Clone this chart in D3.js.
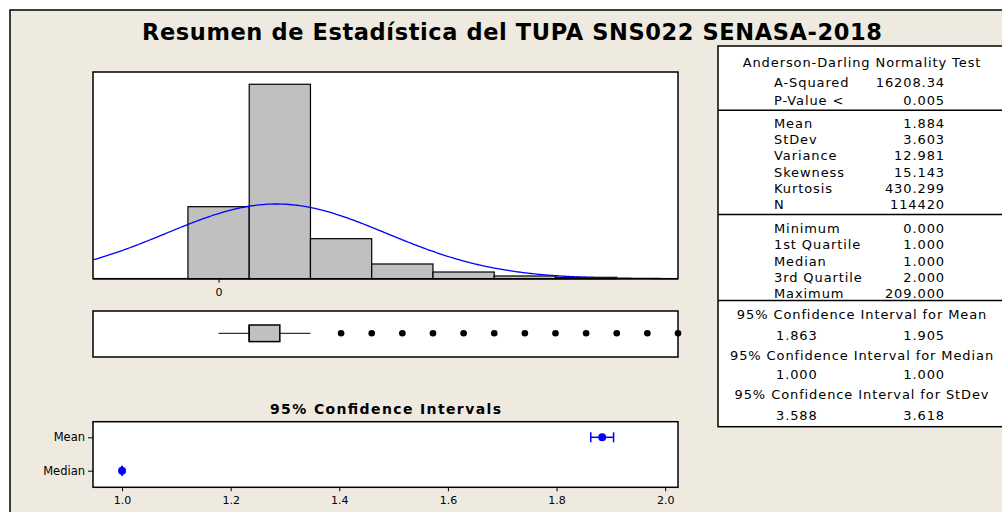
<!DOCTYPE html>
<html>
<head>
<meta charset="utf-8">
<script src="https://cdn.jsdelivr.net/npm/d3@7"></script>
<style>
  html, body { margin: 0; padding: 0; background: #fff; }
  svg { display: block; font-family: "DejaVu Sans", Verdana, sans-serif; }
</style>
</head>
<body>
<svg id="chart" width="1002" height="512"></svg>
<script>
// ---- data ----
const title = "Resumen de Estadística del TUPA SNS022 SENASA-2018";

// histogram: bins of width 2 centred on 0, 2, 4 ...
const binStarts = [-1, 1, 3, 5, 7, 9, 11];
const binWidth = 2;
const binCounts = [24420, 65940, 13570, 4990, 2270, 920, 470];
const histTicks = [0];

const mean = 1.884, stdev = 3.603, nObs = 114420;

// boxplot: low whisker, Q1, median, Q3, high whisker
const boxValues = [0, 1, 1, 2, 3];
const outliers = [4, 5, 6, 7, 8, 9, 10, 11, 12, 13, 14, 15];

// confidence intervals
const ciLabels = ["Mean", "Median"];
const ciPoint = [1.884, 1.000];
const ciLow = [1.863, 1.000];
const ciHigh = [1.905, 1.000];
const ciTicks = [1.0, 1.2, 1.4, 1.6, 1.8, 2.0];

// stats table
const adLabels = ["A-Squared", "P-Value <"];
const adValues = ["16208.34", "0.005"];
const momentLabels = ["Mean", "StDev", "Variance", "Skewness", "Kurtosis", "N"];
const momentValues = ["1.884", "3.603", "12.981", "15.143", "430.299", "114420"];
const quantLabels = ["Minimum", "1st Quartile", "Median", "3rd Quartile", "Maximum"];
const quantValues = ["0.000", "1.000", "1.000", "2.000", "209.000"];
const ciHeaders = ["95% Confidence Interval for Mean", "95% Confidence Interval for Median", "95% Confidence Interval for StDev"];
const ciTableLow = ["1.863", "1.000", "3.588"];
const ciTableHigh = ["1.905", "1.000", "3.618"];

// ---- drawing ----
const svg = d3.select("#chart");
const bg = "#eeeae0";

svg.append("rect")
  .attr("x", 10).attr("y", 10)
  .attr("width", 1020).attr("height", 520)
  .attr("fill", bg).attr("stroke", "#000").attr("stroke-width", 1.5);

svg.append("text")
  .attr("x", 512).attr("y", 40)
  .attr("text-anchor", "middle")
  .attr("textLength", 740).attr("lengthAdjust", "spacing")
  .style("font-size", "22.5px").style("font-weight", "bold")
  .text(title);

const left = 93, right = 678;

// histogram
const hTop = 72, hBottom = 278.7;
const x = d3.scaleLinear().domain([-4.1, 15]).range([left, right]);
const y = d3.scaleLinear().domain([0, 70100]).range([hBottom, hTop]);

svg.append("rect")
  .attr("x", left).attr("y", hTop)
  .attr("width", right - left).attr("height", hBottom - hTop)
  .attr("fill", "#fff").attr("stroke", "#000").attr("stroke-width", 1.5);

svg.append("g").selectAll("rect")
  .data(binStarts)
  .join("rect")
  .attr("x", d => x(d))
  .attr("y", (d, i) => y(binCounts[i]))
  .attr("width", d => x(d + binWidth) - x(d))
  .attr("height", (d, i) => hBottom - y(binCounts[i]))
  .attr("fill", "#c0c0c0")
  .attr("stroke", "#000")
  .attr("stroke-width", 1.2);

const dens = v => nObs * binWidth * Math.exp(-0.5 * ((v - mean) / stdev) ** 2) / (stdev * Math.sqrt(2 * Math.PI));
const curveX = d3.range(-4.1, 15.001, 0.05);
svg.append("path")
  .datum(curveX)
  .attr("fill", "none")
  .attr("stroke", "#0000ff")
  .attr("stroke-width", 1.3)
  .attr("d", d3.line().x(d => x(d)).y(d => y(dens(d))));

svg.append("line")
  .attr("x1", left).attr("x2", right)
  .attr("y1", hBottom).attr("y2", hBottom)
  .attr("stroke", "#000").attr("stroke-width", 1.5);

svg.append("g")
  .attr("transform", `translate(0,${hBottom})`)
  .call(d3.axisBottom(x).tickValues(histTicks).tickSize(4).tickFormat(d3.format("d")))
  .call(g => g.select(".domain").remove())
  .call(g => g.selectAll("text").style("font-size", "11px").style("font-family", "DejaVu Sans").attr("dy", "0.9em"));

// boxplot
const bTop = 311, bBottom = 357, bMid = 333.3;
svg.append("rect")
  .attr("x", left).attr("y", bTop)
  .attr("width", right - left).attr("height", bBottom - bTop)
  .attr("fill", "#fff").attr("stroke", "#000").attr("stroke-width", 1.5);

svg.append("line")
  .attr("x1", x(boxValues[0])).attr("x2", x(boxValues[1]))
  .attr("y1", bMid).attr("y2", bMid).attr("stroke", "#000");
svg.append("line")
  .attr("x1", x(boxValues[3])).attr("x2", x(boxValues[4]))
  .attr("y1", bMid).attr("y2", bMid).attr("stroke", "#000");
svg.append("rect")
  .attr("x", x(boxValues[1])).attr("y", bMid - 8.3)
  .attr("width", x(boxValues[3]) - x(boxValues[1])).attr("height", 16.6)
  .attr("fill", "#c0c0c0").attr("stroke", "#000").attr("stroke-width", 1.5);
svg.append("line")
  .attr("x1", x(boxValues[2])).attr("x2", x(boxValues[2]))
  .attr("y1", bMid - 8.3).attr("y2", bMid + 8.3)
  .attr("stroke", "#000").attr("stroke-width", 1.5);

svg.append("g").selectAll("circle")
  .data(outliers)
  .join("circle")
  .attr("cx", d => x(d)).attr("cy", bMid)
  .attr("r", 3.3).attr("fill", "#000");

// confidence intervals
const cTop = 421.7, cBottom = 487.3;
const cx = d3.scaleLinear().domain([0.9465, 2.0236]).range([left, right]);
const cy = d3.scalePoint().domain(ciLabels).range([437.3, 470.7]);

svg.append("text")
  .attr("x", (left + right) / 2).attr("y", 414)
  .attr("text-anchor", "middle")
  .attr("textLength", 231).attr("lengthAdjust", "spacing")
  .style("font-size", "14px").style("font-weight", "bold")
  .text("95% Confidence Intervals");

svg.append("rect")
  .attr("x", left).attr("y", cTop)
  .attr("width", right - left).attr("height", cBottom - cTop)
  .attr("fill", "#fff").attr("stroke", "#000").attr("stroke-width", 1.5);

svg.append("g")
  .attr("transform", `translate(0,${cBottom})`)
  .call(d3.axisBottom(cx).tickValues(ciTicks).tickSize(4).tickFormat(d3.format(".1f")))
  .call(g => g.select(".domain").remove())
  .call(g => g.selectAll("text").style("font-size", "11px").style("font-family", "DejaVu Sans").attr("dy", "0.85em"));

svg.append("g")
  .attr("transform", `translate(${left},0)`)
  .call(d3.axisLeft(cy).tickSize(5).tickPadding(3))
  .call(g => g.select(".domain").remove())
  .call(g => g.selectAll("text").style("font-size", "11.5px").style("font-family", "DejaVu Sans"));

const ci = svg.append("g").attr("stroke", "#0000ff").attr("stroke-width", 1.5);
ciLabels.forEach((lab, i) => {
  const yy = cy(lab);
  ci.append("line").attr("x1", cx(ciLow[i])).attr("x2", cx(ciHigh[i])).attr("y1", yy).attr("y2", yy);
  ci.append("line").attr("x1", cx(ciLow[i])).attr("x2", cx(ciLow[i])).attr("y1", yy - 5).attr("y2", yy + 5);
  ci.append("line").attr("x1", cx(ciHigh[i])).attr("x2", cx(ciHigh[i])).attr("y1", yy - 5).attr("y2", yy + 5);
  svg.append("circle").attr("cx", cx(ciPoint[i])).attr("cy", yy).attr("r", 4).attr("fill", "#0000ff");
});

// stats table
const tLeft = 718, tTop = 46, tBottom = 426.7;
const tCenter = 862, labX = 774, valX = 945;
svg.append("rect")
  .attr("x", tLeft).attr("y", tTop)
  .attr("width", 320).attr("height", tBottom - tTop)
  .attr("fill", "#fff").attr("stroke", "#000").attr("stroke-width", 1.5);
[110.3, 214.5, 300.6].forEach(yy => {
  svg.append("line").attr("x1", tLeft).attr("x2", 1010)
    .attr("y1", yy).attr("y2", yy).attr("stroke", "#000").attr("stroke-width", 1.5);
});

const tbl = svg.append("g")
  .style("font-size", "13px").style("letter-spacing", "0.9px")
  .attr("fill", "#000");
const shift = 4.6;
tbl.append("text").attr("x", tCenter).attr("y", 62.7 + shift)
  .attr("text-anchor", "middle").text("Anderson-Darling Normality Test");

function block(labels, values, y0, step) {
  labels.forEach((lab, i) => {
    tbl.append("text").attr("x", labX).attr("y", y0 + i * step + shift).text(lab);
    tbl.append("text").attr("x", valX).attr("y", y0 + i * step + shift)
      .attr("text-anchor", "end").text(values[i]);
  });
}
block(adLabels, adValues, 82.7, 17.3);
block(momentLabels, momentValues, 123.3, 16.2);
block(quantLabels, quantValues, 228.5, 16.2);

const ciHeadY = [314, 355, 394.3];
const ciValY = [335.3, 374.3, 415.7];
ciHeaders.forEach((h, i) => {
  tbl.append("text").attr("x", tCenter).attr("y", ciHeadY[i] + shift)
    .attr("text-anchor", "middle").text(h);
  tbl.append("text").attr("x", 776).attr("y", ciValY[i] + shift).text(ciTableLow[i]);
  tbl.append("text").attr("x", valX).attr("y", ciValY[i] + shift)
    .attr("text-anchor", "end").text(ciTableHigh[i]);
});
</script>
</body>
</html>
